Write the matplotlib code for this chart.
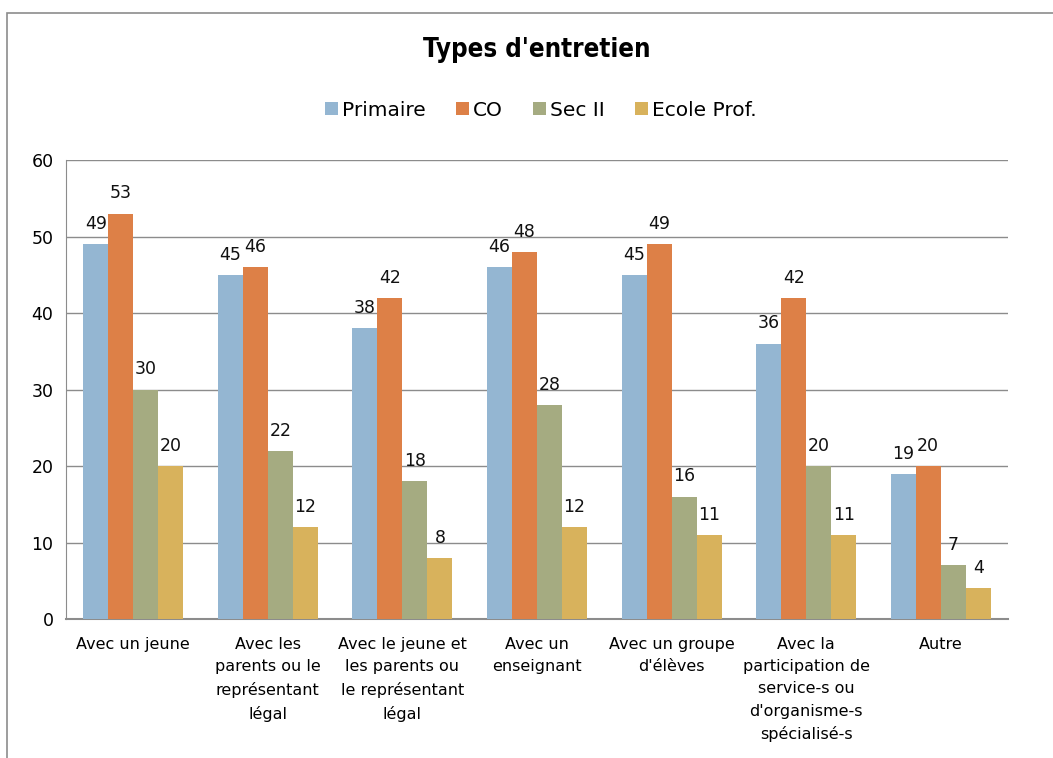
import matplotlib
matplotlib.use("Agg")
import matplotlib.pyplot as plt
from matplotlib.patches import Rectangle
import numpy as np

categories = [
    "Avec un jeune",
    "Avec les\nparents ou le\nreprésentant\nlégal",
    "Avec le jeune et\nles parents ou\nle représentant\nlégal",
    "Avec un\nenseignant",
    "Avec un groupe\nd'élèves",
    "Avec la\nparticipation de\nservice-s ou\nd'organisme-s\nspécialisé-s",
    "Autre",
]
series_names = ["Primaire", "CO", "Sec II", "Ecole Prof."]
primaire = [49, 45, 38, 46, 45, 36, 19]
co = [53, 46, 42, 48, 49, 42, 20]
sec2 = [30, 22, 18, 28, 16, 20, 7]
ecole_prof = [20, 12, 8, 12, 11, 11, 4]
yticks = [0, 10, 20, 30, 40, 50, 60]

colors = ["#94B6D2", "#DD8047", "#A5AB81", "#D8B25C"]
font = "DejaVu Sans"
plt.rcParams['font.family'] = [font]

fig = plt.figure(figsize=(10.53, 7.58), dpi=100)
ax = fig.add_axes([66/1053, 1-619/758, (1008-66)/1053, (619-160)/758])

# outer frame (cropped chart area border)
fig.add_artist(Rectangle((7/1053, -0.1), 1.2, 1-13/758+0.1, transform=fig.transFigure,
                         fill=False, edgecolor="#8C8C8C", linewidth=1.2))

x = np.arange(len(categories))
w = 0.186
data = [primaire, co, sec2, ecole_prof]
for i, (vals, name, c) in enumerate(zip(data, series_names, colors)):
    pos = x + (i - 1.5) * w
    bars = ax.bar(pos, vals, width=w, color=c, label=name, zorder=3)
    for b, v in zip(bars, vals):
        ax.annotate(str(v), (b.get_x() + b.get_width()/2, v), xytext=(0, 8),
                    textcoords="offset points", ha="center", va="bottom",
                    fontsize=12.5, color="#111111")

ax.set_xlim(-0.5, len(categories) - 0.5)
ax.set_ylim(0, 60)
ax.set_yticks(yticks)
ax.set_xticks(x)
ax.set_xticklabels(categories, fontsize=11.5, linespacing=1.6)
ax.tick_params(axis="y", length=0, pad=9, labelsize=12.5)
ax.tick_params(axis="x", length=0, pad=13)
ax.grid(axis="y", color="#8C8C8C", linewidth=1.0, zorder=0)
ax.set_axisbelow(True)
for s in ["top", "right"]:
    ax.spines[s].set_visible(False)
ax.spines["left"].set_color("#8C8C8C")
ax.spines["bottom"].set_color("#8C8C8C")
ax.spines["bottom"].set_linewidth(1.5)

fig.text(537/1053, 1-50/758, "Types d'entretien", ha="center", va="center",
         fontsize=18.5, fontweight="bold", fontstretch="condensed")
fig.legend(loc="center", bbox_to_anchor=(541/1053, 1-110/758), ncol=4, frameon=False,
           fontsize=14.5, handlelength=0.65, handleheight=0.65, handletextpad=0.2,
           columnspacing=1.5)

fig.savefig("out.png", dpi=100)
